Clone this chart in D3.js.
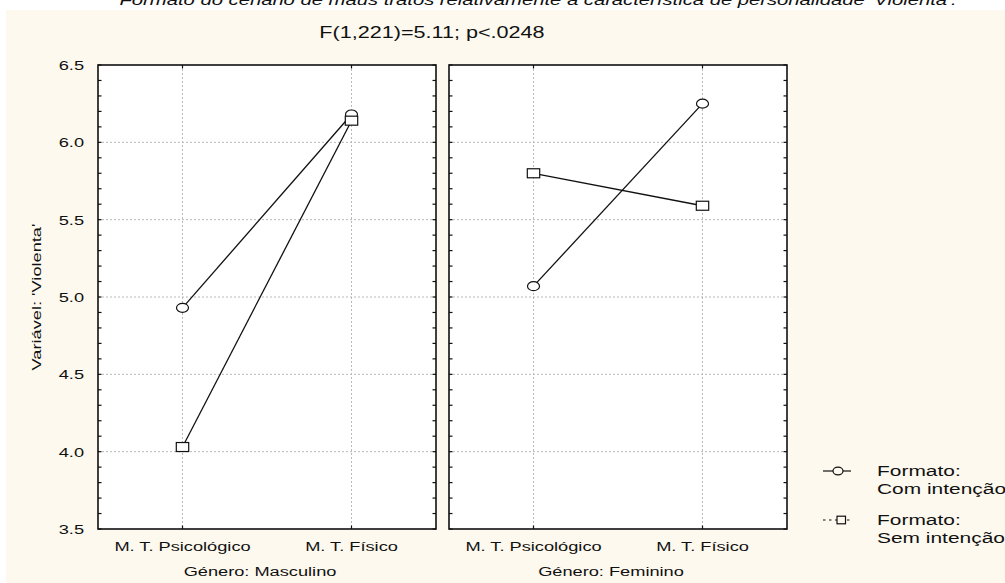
<!DOCTYPE html>
<html>
<head>
<meta charset="utf-8">
<script src="https://cdn.jsdelivr.net/npm/d3@7"></script>
<style>
  html, body { margin: 0; padding: 0; background: #ffffff; }
  svg { display: block; }
  text { font-family: "Liberation Sans", Arial, sans-serif; fill: #111; }
</style>
</head>
<body>
<svg id="chart" width="1005" height="583"></svg>
<script>
// ---- data ----
const categories = ["M. T. Psicológico", "M. T. Físico"];
const panels = ["Género: Masculino", "Género: Feminino"];
const seriesNames = ["Formato:\nCom intenção", "Formato:\nSem intenção"];
// values per panel: [Psicológico, Físico]
const comIntencao = [[4.93, 6.18], [5.07, 6.25]];
const semIntencao = [[4.03, 6.14], [5.80, 5.59]];
const yMajorTicks = [3.5, 4.0, 4.5, 5.0, 5.5, 6.0, 6.5];
const yDomain = [3.5, 6.5];

const title = "Formato do cenário de maus tratos relativamente à característica de personalidade 'Violenta'.";
const subtitle = "F(1,221)=5.11; p<.0248";
const yTitle = "Variável: 'Violenta'";

// ---- layout ----
const W = 1005, H = 583;
const SX = 1.35;               // horizontal stretch of the lettering
const plotTop = 65, plotBottom = 529;
const panelX = [98, 449];
const panelW = 338;

const svg = d3.select("#chart");

svg.append("rect").attr("x", 6).attr("y", 10).attr("width", W - 6).attr("height", H - 10)
  .attr("fill", "#fdf9ee");

function label(parent, x, y, txt, size, anchor) {
  const g = parent.append("g").attr("transform", `translate(${x},${y}) scale(${SX},1)`);
  return g.append("text").attr("text-anchor", anchor || "middle")
    .attr("font-size", size).text(txt);
}

// headings
label(svg, 538, 5, title, 15, "middle").attr("font-style", "italic");
label(svg, 432, 38, subtitle, 16, "middle");

const y = d3.scaleLinear().domain(yDomain).range([plotBottom, plotTop]);
const minorTicks = d3.range(35, 66).map(v => v / 10);

panels.forEach((pName, pi) => {
  const x0 = panelX[pi], x1 = x0 + panelW;
  const x = d3.scalePoint().domain(categories).range([x0, x1]).padding(0.5);
  const g = svg.append("g");

  g.append("rect").attr("x", x0).attr("y", plotTop).attr("width", panelW).attr("height", plotBottom - plotTop)
    .attr("fill", "#ffffff");

  // dotted grid
  g.selectAll(".gy").data(yMajorTicks.slice(1, -1)).join("line")
    .attr("x1", x0).attr("x2", x1).attr("y1", d => y(d)).attr("y2", d => y(d))
    .attr("stroke", "#b8b8b8").attr("stroke-width", 1).attr("stroke-dasharray", "2,2");
  g.selectAll(".gx").data(categories).join("line")
    .attr("x1", d => x(d)).attr("x2", d => x(d)).attr("y1", plotTop).attr("y2", plotBottom)
    .attr("stroke", "#b8b8b8").attr("stroke-width", 1).attr("stroke-dasharray", "2,2");

  // inward tick marks on both vertical edges
  [[x0, 1], [x1, -1]].forEach(([xe, dir]) => {
    g.selectAll(null).data(minorTicks).join("line")
      .attr("x1", xe).attr("x2", xe + dir * 3.5)
      .attr("y1", d => y(d)).attr("y2", d => y(d))
      .attr("stroke", "#111").attr("stroke-width", 1.2);
  });
  [[plotTop, 1], [plotBottom, -1]].forEach(([ye, dir]) => {
    g.selectAll(null).data(categories).join("line")
      .attr("x1", d => x(d)).attr("x2", d => x(d))
      .attr("y1", ye).attr("y2", ye + dir * 3.5)
      .attr("stroke", "#111").attr("stroke-width", 1.2);
  });

  // frame
  g.append("rect").attr("x", x0).attr("y", plotTop).attr("width", panelW).attr("height", plotBottom - plotTop)
    .attr("fill", "none").attr("stroke", "#111").attr("stroke-width", 1.6);

  // series lines
  const line = d3.line().x((d, i) => x(categories[i])).y(d => y(d));
  [comIntencao[pi], semIntencao[pi]].forEach(vals => {
    g.append("path").attr("d", line(vals)).attr("fill", "none")
      .attr("stroke", "#111").attr("stroke-width", 1.3);
  });

  // markers: circles first, squares on top
  g.selectAll(".c").data(comIntencao[pi]).join("ellipse")
    .attr("cx", (d, i) => x(categories[i])).attr("cy", d => y(d))
    .attr("rx", 6).attr("ry", 4.5)
    .attr("fill", "#fff").attr("stroke", "#111").attr("stroke-width", 1.2);
  g.selectAll(".s").data(semIntencao[pi]).join("rect")
    .attr("x", (d, i) => x(categories[i]) - 6.2).attr("y", d => y(d) - 4.5)
    .attr("width", 12.4).attr("height", 9)
    .attr("fill", "#fff").attr("stroke", "#111").attr("stroke-width", 1.2);

  // category labels and panel name
  categories.forEach(c => label(svg, x(c), 551, c, 13.5, "middle"));
  label(svg, (x0 + x1) / 2 - 7, 576, pName, 13.5, "middle");
});

// y tick labels
yMajorTicks.forEach(v => label(svg, 84, y(v) + 5, v.toFixed(1), 13.5, "end"));

// y title, stretched along its length like the rest of the lettering
svg.append("g").attr("transform", `translate(41,${(plotTop + plotBottom) / 2}) rotate(-90) scale(${SX},1)`)
  .append("text").attr("text-anchor", "middle").attr("font-size", 13.5).text(yTitle);

// legend
const lg = svg.append("g");
const legendRows = [
  { y: 471, dash: null, shape: "circle" },
  { y: 520, dash: "2.5,3.5", shape: "square" }
];
legendRows.forEach((r, i) => {
  lg.append("line").attr("x1", 823).attr("x2", 851).attr("y1", r.y).attr("y2", r.y)
    .attr("stroke", "#111").attr("stroke-width", 1.2)
    .attr("stroke-dasharray", r.dash);
  if (r.shape === "circle") {
    lg.append("ellipse").attr("cx", 838).attr("cy", r.y).attr("rx", 5).attr("ry", 3.8)
      .attr("fill", "#fdf9ee").attr("stroke", "#111").attr("stroke-width", 1.2);
  } else {
    lg.append("rect").attr("x", 837).attr("y", r.y - 3.8).attr("width", 8.5).attr("height", 7.6)
      .attr("fill", "#fdf9ee").attr("stroke", "#111").attr("stroke-width", 1.2);
  }
  const lines = seriesNames[i].split("\n");
  label(lg, 877, r.y + 5, lines[0], 15.5, "start");
  label(lg, 877, r.y + 23, lines[1], 15.5, "start");
});
</script>
</body>
</html>
